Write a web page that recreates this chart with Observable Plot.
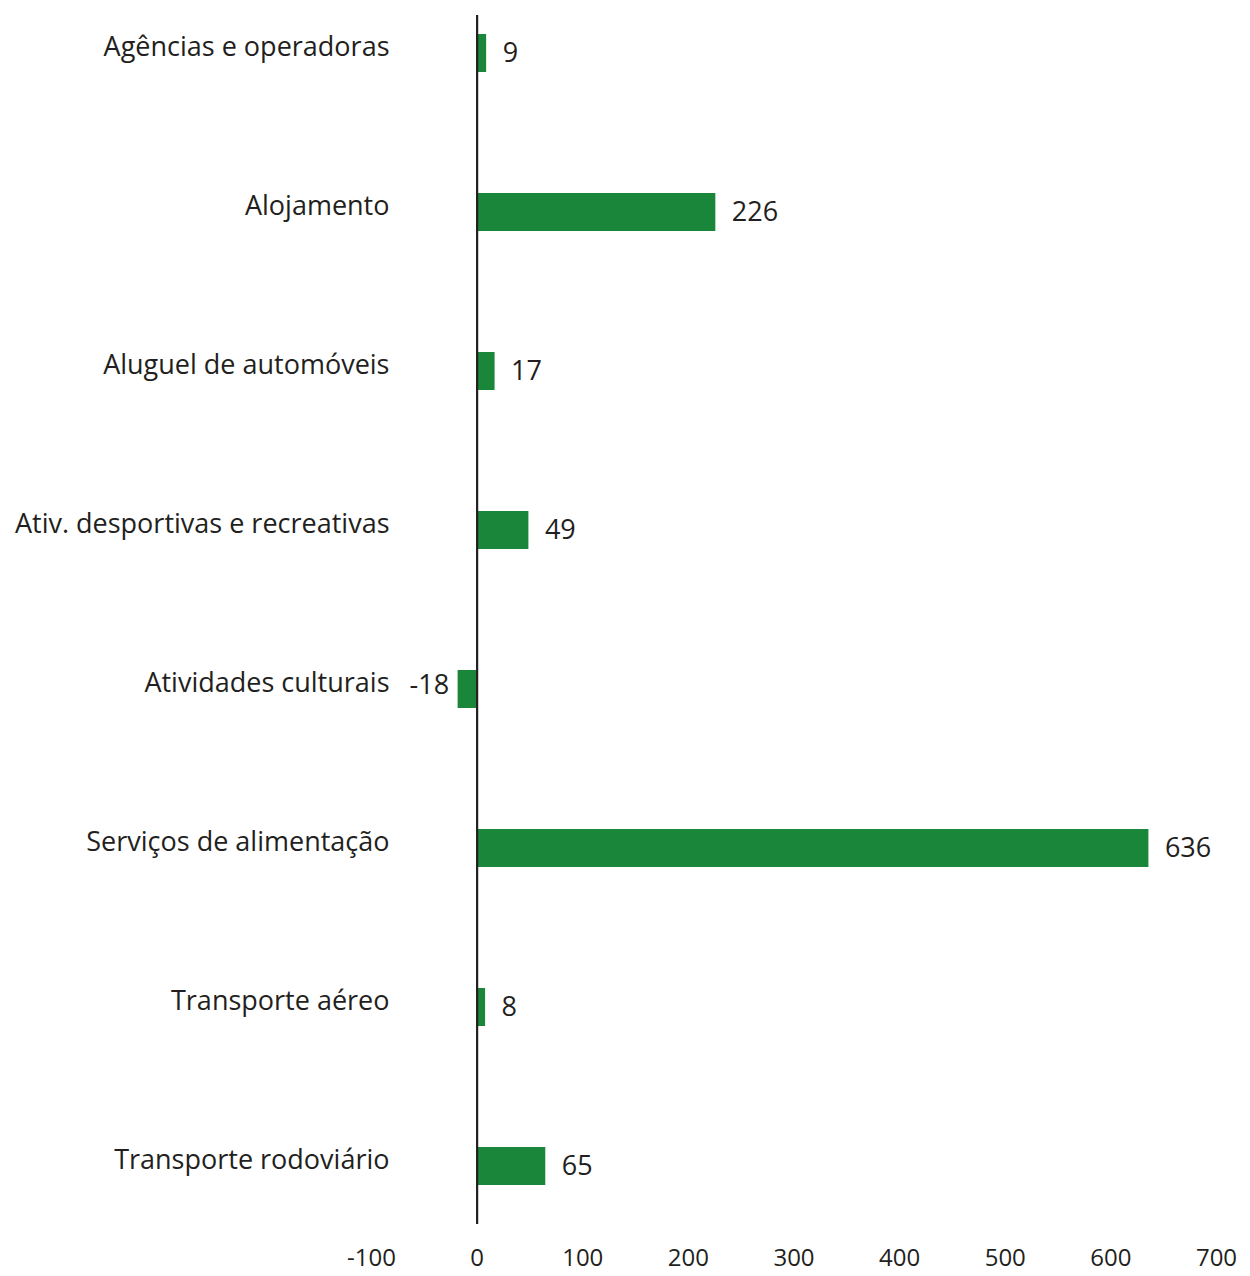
<!DOCTYPE html>
<html>
<head>
<meta charset="utf-8">
<script src="https://cdn.jsdelivr.net/npm/d3@7"></script>
<script src="https://cdn.jsdelivr.net/npm/@observablehq/plot@0.6"></script>
<style>
  html, body { margin: 0; padding: 0; background: #fff; }
  #chart svg { display: block; }
</style>
</head>
<body>
<div id="chart"></div>
<script>
const categories = [
  "Agências e operadoras",
  "Alojamento",
  "Aluguel de automóveis",
  "Ativ. desportivas e recreativas",
  "Atividades culturais",
  "Serviços de alimentação",
  "Transporte aéreo",
  "Transporte rodoviário"
];
const values = [9, 226, 17, 49, -18, 636, 8, 65];
const xTicks = [-100, 0, 100, 200, 300, 400, 500, 600, 700];

const data = categories.map((c, i) => ({category: c, value: values[i]}));

const ink = "#231f20";
const green = "#1a8639";

const chart = Plot.plot({
  width: 1250,
  height: 1276,
  marginTop: 15,
  marginBottom: 52,
  marginLeft: 371,
  marginRight: 34,
  style: {fontFamily: "'Open Sans', sans-serif", color: ink, background: "#fff"},
  x: {domain: [-100, 700]},
  y: {domain: categories, paddingInner: 0.762, paddingOuter: 0.16, align: 0.33},
  marks: [
    Plot.barX(data, {x: "value", y: "category", fill: green}),
    Plot.ruleX([0], {stroke: ink, strokeWidth: 2.2}),
    Plot.text(data.filter(d => d.value >= 0), {
      x: "value", y: "category", text: d => String(d.value),
      textAnchor: "start", dx: 16, fontSize: 27, fill: ink
    }),
    Plot.text(data.filter(d => d.value < 0), {
      x: "value", y: "category", text: d => String(d.value),
      textAnchor: "end", dx: -9, dy: -4, fontSize: 27, fill: ink
    }),
    Plot.axisY({tickSize: 0, tickPadding: 0, dx: 18, fontSize: 27, dy: -6, label: null, fill: ink}),
    Plot.axisX({ticks: xTicks, tickFormat: d => String(d), tickSize: 0, tickPadding: 24, fontSize: 24, label: null, fill: ink})
  ]
});
document.getElementById("chart").appendChild(chart);
</script>
</body>
</html>
